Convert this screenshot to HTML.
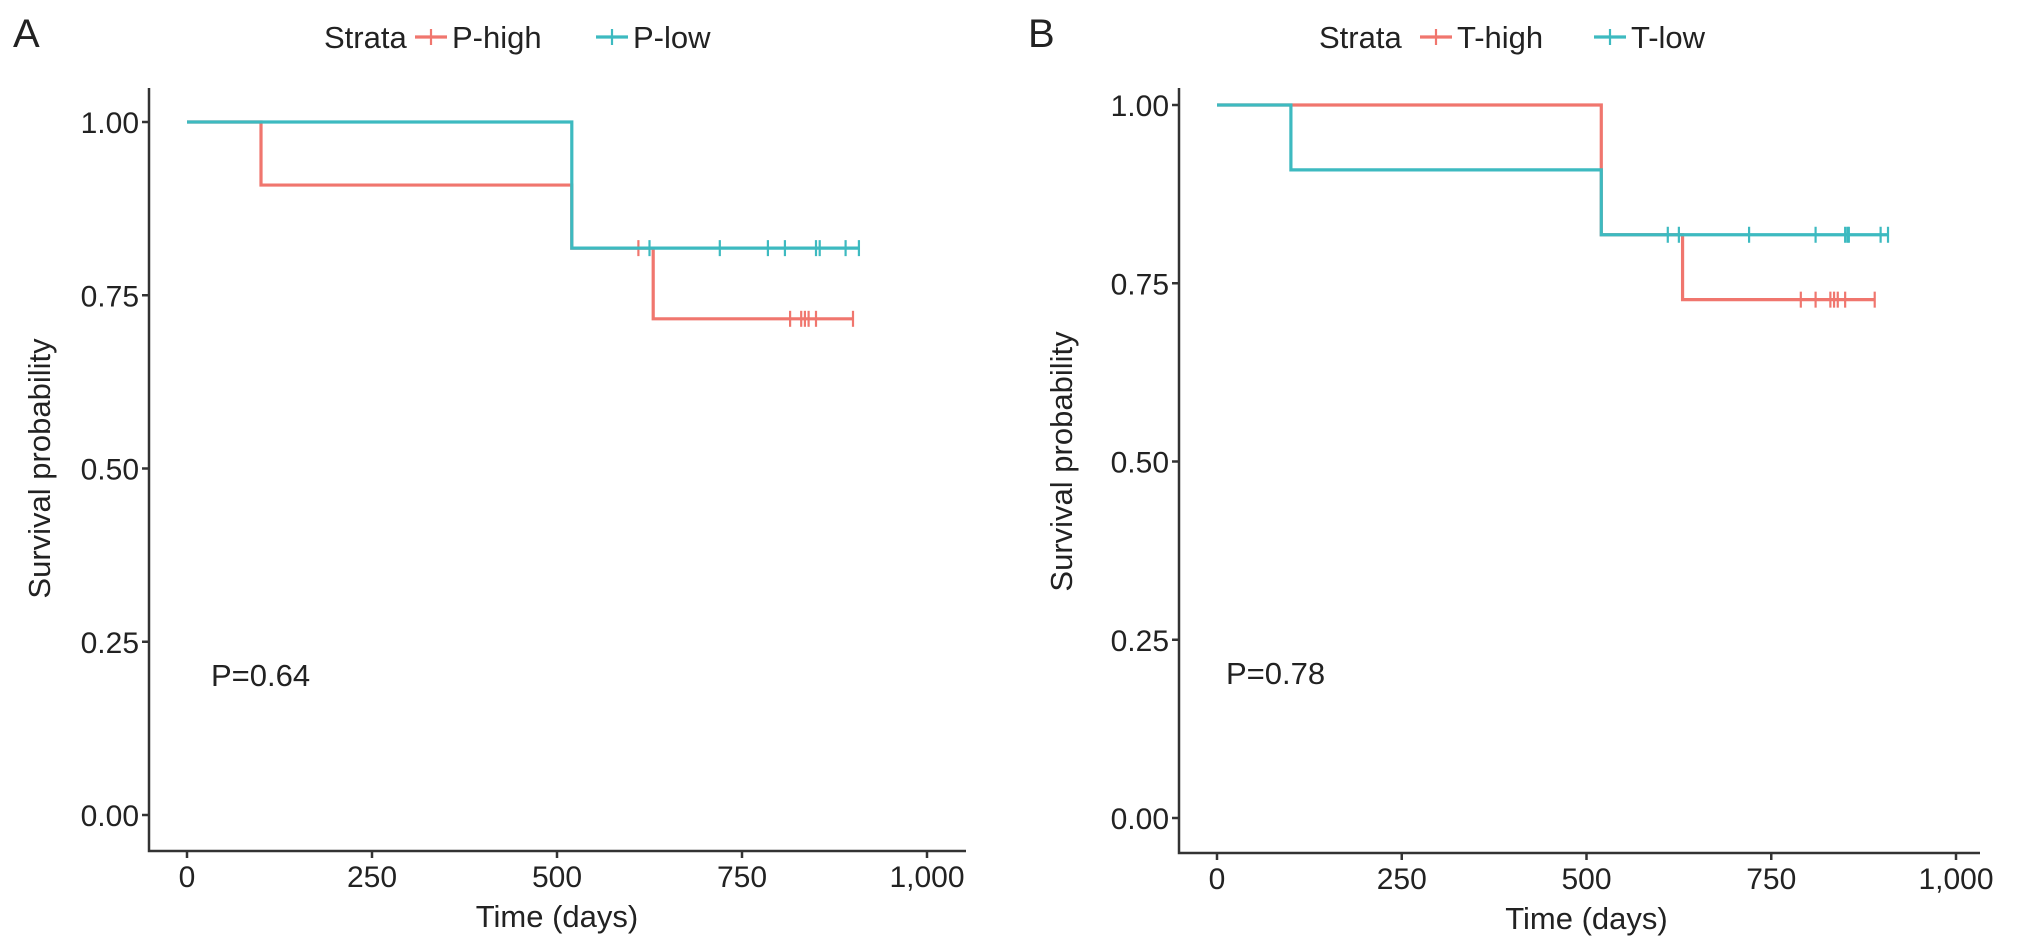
<!DOCTYPE html>
<html><head><meta charset="utf-8"><style>
html,body{margin:0;padding:0;background:#fff;}
svg{display:block;font-family:"Liberation Sans",Arial,sans-serif;}
</style></head><body>
<svg id="chart" width="2032" height="950" viewBox="0 0 2032 950"></svg>
<script>
const NS="http://www.w3.org/2000/svg";
const RED="#F0766E", TEAL="#3DBAC0";
const xTicks=[0,250,500,750,1000];
const xTickLabels=["0","250","500","750","1,000"];
const yTicks=[0,0.25,0.5,0.75,1];
const yTickLabels=["0.00","0.25","0.50","0.75","1.00"];
// Panel A
const aHighTimes=[0,100,520,630], aHighSurv=[1,0.909,0.818,0.716];
const aHighCensor=[610,815,830,835,840,850,900];
const aHighEnd=900;
const aLowTimes=[0,520], aLowSurv=[1,0.818];
const aLowCensor=[625,720,785,808,850,855,890,908];
const aLowEnd=908;
// Panel B
const bHighTimes=[0,520,630], bHighSurv=[1,0.818,0.727];
const bHighCensor=[790,810,830,835,840,850,890];
const bHighEnd=890;
const bLowTimes=[0,100,520], bLowSurv=[1,0.909,0.818];
const bLowCensor=[610,625,720,810,850,853,855,898,908];
const bLowEnd=908;

const svg=document.getElementById('chart');
function el(tag,attrs,parent,text){const e=document.createElementNS(NS,tag);for(const k in attrs)e.setAttribute(k,attrs[k]);if(text!==undefined)e.textContent=text;(parent||svg).appendChild(e);return e;}

function panel(cfg){
  const g=el('g',{});
  
  
  const X=d=>cfg.x0+d*(cfg.x1000-cfg.x0)/1000;
  const Y=s=>cfg.y0+s*(cfg.y1-cfg.y0);
  const ax=el('path',{d:`M${cfg.ax} ${cfg.top} V${cfg.bot} H${cfg.right}`,stroke:'#333',fill:'none','stroke-width':2.5},g);
  
  
  xTicks.forEach((t,i)=>{
    el('line',{x1:X(t),x2:X(t),y1:cfg.bot,y2:cfg.bot+7,stroke:'#333','stroke-width':2.5},g);
    const tx=el('text',{x:X(t),y:cfg.bot+36,'text-anchor':'middle','font-size':30,fill:'#222'},g,xTickLabels[i]);
    
    
  });
  yTicks.forEach((t,i)=>{
    el('line',{x1:cfg.ax-7,x2:cfg.ax,y1:Y(t),y2:Y(t),stroke:'#333','stroke-width':2.5},g);
    const ty=el('text',{x:cfg.ax-10,y:Y(t)+11,'text-anchor':'end','font-size':30,fill:'#222'},g,yTickLabels[i]);
    
    
  });
  const xt=el('text',{x:(cfg.x0+cfg.x1000)/2,y:cfg.bot+76,'text-anchor':'middle','font-size':31,fill:'#222'},g,'Time (days)');
  
  
  const yt=el('text',{x:0,y:0,'text-anchor':'middle','font-size':31,fill:'#222',transform:`translate(${cfg.ytx},${(cfg.y0+cfg.y1)/2}) rotate(-90)`},g,'Survival probability');
  
  
  function curve(times,surv,end,censor,color,name){
    let d=`M${X(times[0])} ${Y(surv[0])}`;
    for(let i=1;i<times.length;i++){d+=` H${X(times[i])} V${Y(surv[i])}`;}
    d+=` H${X(end)}`;
    const p=el('path',{d,stroke:color,fill:'none','stroke-width':3.2},g);
    
    
    censor.forEach(c=>{
      let s=surv[0];for(let i=0;i<times.length;i++){if(times[i]<=c)s=surv[i];}
      const m=el('path',{d:`M${X(c)} ${Y(s)-8} V${Y(s)+8}`,stroke:color,'stroke-width':2.2},g);
      
      
    });
  }
  curve(cfg.high.t,cfg.high.s,cfg.high.end,cfg.high.c,RED,cfg.hName);
  curve(cfg.low.t,cfg.low.s,cfg.low.end,cfg.low.c,TEAL,cfg.lName);
  const pv=el('text',{x:cfg.px,y:cfg.py,'font-size':31,fill:'#222'},g,cfg.pText);
  
  
  const lt=el('text',{x:cfg.lx,y:47,'font-size':40,fill:'#222'},g,cfg.letter);
  
  
  const lg=el('g',{},g);
  
  
  el('text',{x:cfg.leg[0],y:48,'font-size':31,fill:'#222'},lg,'Strata');
  [[cfg.leg[1],RED,cfg.hLabel],[cfg.leg[2],TEAL,cfg.lLabel]].forEach(([k,c,lab])=>{
    const e=el('g',{},lg);
    
    
    el('line',{x1:k,x2:k+32,y1:37,y2:37,stroke:c,'stroke-width':3.2},e);
    el('line',{x1:k+16,x2:k+16,y1:29,y2:45,stroke:c,'stroke-width':2.2},e);
    el('text',{x:k+37,y:48,'font-size':31,fill:'#222'},e,lab);
  });
}
panel({name:'panel-a',letter:'A',lx:13,ax:149,top:88,bot:851,right:966,x0:187,x1000:927,y0:815,y1:122,ytx:50,
  high:{t:aHighTimes,s:aHighSurv,end:aHighEnd,c:aHighCensor},low:{t:aLowTimes,s:aLowSurv,end:aLowEnd,c:aLowCensor},
  hName:'p-high',lName:'p-low',hLabel:'P-high',lLabel:'P-low',pText:'P=0.64',px:211,py:686,leg:[324,415,596]});
panel({name:'panel-b',letter:'B',lx:1028,ax:1179,top:88,bot:853,right:1980,x0:1217,x1000:1956,y0:818,y1:105,ytx:1072,
  high:{t:bHighTimes,s:bHighSurv,end:bHighEnd,c:bHighCensor},low:{t:bLowTimes,s:bLowSurv,end:bLowEnd,c:bLowCensor},
  hName:'t-high',lName:'t-low',hLabel:'T-high',lLabel:'T-low',pText:'P=0.78',px:1226,py:684,leg:[1319,1420,1594]});
</script>
</body></html>
